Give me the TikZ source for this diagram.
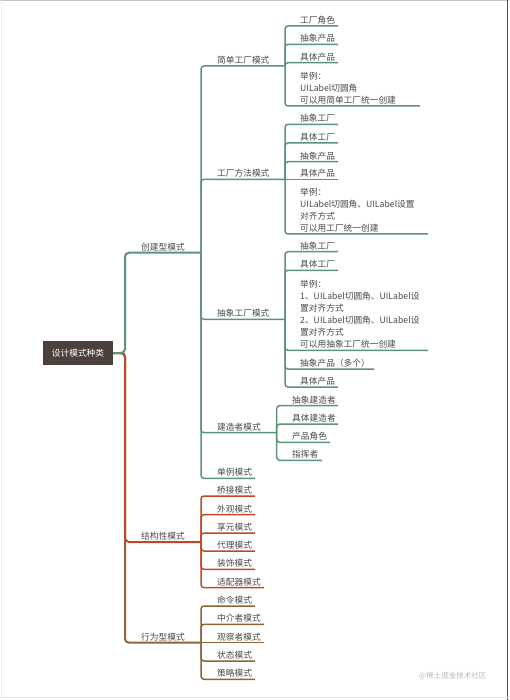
\documentclass[tikz,border=0pt]{standalone}
\usepackage{fontspec}
\setmainfont{Noto Sans CJK SC}
\usepackage{xcolor}
\usepackage{tikz}
\usetikzlibrary{positioning,calc}

\definecolor{rootbg}{RGB}{76,64,61}
\definecolor{grn}{RGB}{92,148,118}
\definecolor{rd}{RGB}{192,72,40}
\definecolor{brn}{RGB}{141,101,52}
\definecolor{txt}{RGB}{72,72,72}

\begin{document}
\begin{tikzpicture}[x=1pt, y=-1pt,
  topic/.style={anchor=south west, inner xsep=0pt, inner ysep=1.6pt, text=txt,
    font=\fontsize{8.7}{12}\selectfont, align=left},
  br2/.style={line width=2pt, rounded corners=4pt},
  br3/.style={line width=1.5pt, rounded corners=3pt}]
  \useasboundingbox (0,0) rectangle (509,700);

  % Frame
  \draw[gray!45, line width=1pt] (0,0.5) -- (509,0.5);
  \draw[gray!12, line width=1pt] (1.5,0) -- (1.5,697);
  \draw[black!70, line width=1pt] (507.5,0) -- (507.5,700);
  \draw[gray!20, line width=1pt] (0,697.5) -- (509,697.5);

  % Root
  \node[fill=rootbg, text=white, minimum width=70pt, minimum height=24pt, inner sep=0pt,
    font=\fontsize{8.7}{10}\selectfont] (root) at (78,353) {设计模式种类};
  \coordinate (j0) at (125,353);

  % Main branches
  \coordinate (cx) at (201,252.7);
  \coordinate (jg) at (201,542);
  \coordinate (xw) at (201,642.7);
  \draw[br2, brn] (root.east) -- (j0) |- (xw);
  \draw[br2, rd] (root.east) -- (j0) |- (jg);
  \draw[br2, grn] (root.east) -- (j0) |- (cx);
  \node[topic] (cxt) at (141,252.7) {创建型模式};
  \node[topic] (jgt) at (141,542) {结构性模式};
  \node[topic] (xwt) at (141,642.7) {行为型模式};

  % Creational patterns
  \coordinate (jd) at (285,66);
  \coordinate (gf) at (285,179.3);
  \coordinate (cc) at (285,319.3);
  \coordinate (jz) at (276.7,432.7);
  \coordinate (dl) at (255,478.3);
  \foreach \c in {jd,gf,cc,jz,dl}
    \draw[br3, grn] (cx) |- (\c);
  \node[topic] (jdt) at (217,66) {简单工厂模式};
  \node[topic] (gft) at (217,179.3) {工厂方法模式};
  \node[topic] (cct) at (217,319.3) {抽象工厂模式};
  \node[topic] (jzt) at (217,432.7) {建造者模式};
  \node[topic] (dlt) at (217,478.3) {单例模式};

  % Simple factory
  \foreach \i/\y/\e/\t in {1/26/338/工厂角色, 2/44.3/338/抽象产品, 3/62.7/338/具体产品} {
    \coordinate (jd\i) at (\e,\y);
    \draw[br3, grn] (jd) |- (jd\i);
    \node[topic] (jdt\i) at (300,\y) {\t};
  }
  \coordinate (jd4) at (420,106);
  \draw[br3, grn] (jd) |- (jd4);
  \node[topic] (jdt4) at (300,106) {举例：\\UILabel切圆角\\可以用简单工厂统一创建};

  % Factory method
  \foreach \i/\y/\e/\t in {1/124.3/338/抽象工厂, 2/143/338/具体工厂, 3/161.7/338/抽象产品} {
    \coordinate (gf\i) at (\e,\y);
    \draw[br3, grn] (gf) |- (gf\i);
    \node[topic] (gft\i) at (300,\y) {\t};
  }
  \coordinate (gf4) at (338,179.3);
  \draw[br3, grn] (gf) -- (gf4);
  \node[topic] (gft4) at (300,179.3) {具体产品};
  \coordinate (gf5) at (428,234);
  \draw[br3, grn] (gf) |- (gf5);
  \node[topic] (gft5) at (300,234) {举例：\\UILabel切圆角、UILabel设置\\对齐方式\\可以用工厂统一创建};

  % Abstract factory
  \foreach \i/\y/\e/\t in {1/251.7/338/抽象工厂, 2/270.3/338/具体工厂, 4/369/374/抽象产品（多个）, 5/387/338/具体产品} {
    \coordinate (cc\i) at (\e,\y);
    \draw[br3, grn] (cc) |- (cc\i);
    \node[topic] (cct\i) at (300,\y) {\t};
  }
  \coordinate (cc3) at (428,350.3);
  \draw[br3, grn] (cc) |- (cc3);
  \node[topic] (cct3) at (300,350.3) {举例：\\1、UILabel切圆角、UILabel设\\置对齐方式\\2、UILabel切圆角、UILabel设\\置对齐方式\\可以用抽象工厂统一创建};

  % Builder
  \foreach \i/\y/\e/\t in {1/405.7/338/抽象建造者, 2/424/338/具体建造者, 3/442.3/330/产品角色, 4/460.3/322/指挥者} {
    \coordinate (jz\i) at (\e,\y);
    \draw[br3, grn] (jz) |- (jz\i);
    \node[topic] (jzt\i) at (292,\y) {\t};
  }

  % Structural patterns
  \foreach \i/\y/\e/\t in {1/496/255/桥接模式, 2/514.7/255/外观模式, 3/533/255/享元模式,
      4/551/255/代理模式, 5/569.3/255/装饰模式, 6/587.7/264/适配器模式} {
    \coordinate (jg\i) at (\e,\y);
    \draw[br3, rd] (jg) |- (jg\i);
    \node[topic] (jgt\i) at (217,\y) {\t};
  }

  % Behavioral patterns
  \foreach \i/\y/\e/\t in {1/606/255/命令模式, 2/624.3/264/中介者模式, 4/661/255/状态模式, 5/679.3/255/策略模式} {
    \coordinate (xw\i) at (\e,\y);
    \draw[br3, brn] (xw) |- (xw\i);
    \node[topic] (xwt\i) at (217,\y) {\t};
  }
  \coordinate (xw3) at (264,642.7);
  \draw[br3, brn] (xw) -- (xw3);
  \node[topic] (xwt3) at (217,642.7) {观察者模式};

  % Watermark
  \node[anchor=west, inner sep=0pt, text=gray!55, font=\fontsize{7.5}{9}\selectfont] (wm) at (419,675.5) {@稀土掘金技术社区};
\end{tikzpicture}
\end{document}
